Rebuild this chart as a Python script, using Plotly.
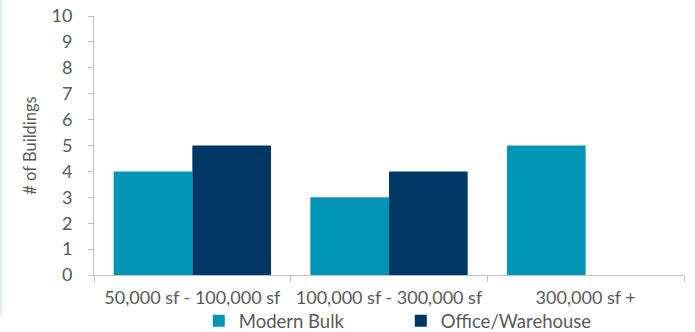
import plotly.graph_objects as go

categories = ["50,000 sf - 100,000 sf", "100,000 sf - 300,000 sf", "300,000 sf +"]
modern_bulk = [4, 3, 5]
office_warehouse = [5, 4, None]
y_title = "# of Buildings"

C_BULK = "#0095B4"
C_OFFICE = "#003865"
TXT = "#595959"
AX = "#BFBFBF"
FONT = "Lato"

fig = go.Figure()
fig.add_trace(go.Bar(name="Modern Bulk", x=categories, y=modern_bulk,
                     marker=dict(color=C_BULK, line=dict(width=0))))
fig.add_trace(go.Bar(name="Office/Warehouse", x=categories, y=office_warehouse,
                     marker=dict(color=C_OFFICE, line=dict(width=0))))

fig.update_layout(
    width=695, height=332,
    margin=dict(l=94, r=11, t=16, b=57, autoexpand=False),
    paper_bgcolor="white", plot_bgcolor="white",
    barmode="group", bargap=0.2, bargroupgap=0,
    font=dict(family=FONT, color=TXT, size=18),
    legend=dict(orientation="h", x=0.52, xanchor="center", y=-0.178, yanchor="middle",
                font=dict(size=18.5, color=TXT), itemwidth=30, tracegroupgap=0,
                entrywidth=157, entrywidthmode="pixels",
                bgcolor="rgba(0,0,0,0)", traceorder="normal"),
    showlegend=True,
)
fig.update_xaxes(type="category", showline=True, linecolor=AX, linewidth=1,
                 ticks="outside", tickson="boundaries", ticklen=6, tickcolor=AX,
                 tickfont=dict(size=18, color=TXT), showgrid=False, ticklabelstandoff=6,
                 automargin=False)
fig.update_yaxes(range=[0, 10], dtick=1, showline=True, linecolor=AX, linewidth=1,
                 ticks="outside", ticklen=5, tickcolor=AX, showgrid=False, zeroline=False,
                 tickfont=dict(size=18, color=TXT), ticklabelstandoff=12, automargin=False,
                 title=dict(text=y_title, font=dict(size=16.5, color=TXT), standoff=10))

fig.add_shape(type="line", xref="paper", yref="paper", x0=-93/590, x1=-93/590,
              y0=1 + 16/259, y1=-40/259, line=dict(color="#D6EDF4", width=2))

fig.write_html("out.html")
